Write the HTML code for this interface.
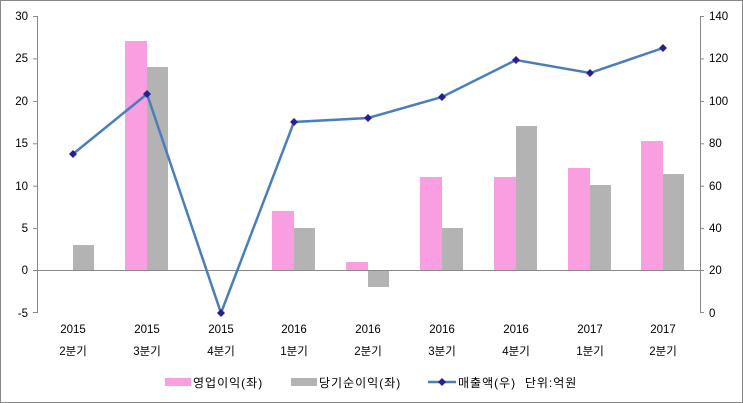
<!DOCTYPE html>
<html><head><meta charset="utf-8"><style>body{margin:0;background:#fff}svg{display:block}text{font-family:"Liberation Sans","Noto Sans CJK KR",sans-serif;font-size:11.5px;fill:#000}.lg{font-size:12px;letter-spacing:1px}</style></head><body>
<svg width="743" height="403" xmlns="http://www.w3.org/2000/svg">
<rect x="0.5" y="0.5" width="742" height="402" fill="#fff" stroke="#888"/>
<g stroke="#888" stroke-width="1">
<line x1="37.5" y1="16" x2="37.5" y2="313"/>
<line x1="700.5" y1="16" x2="700.5" y2="313"/>
<line x1="37" y1="270.5" x2="700" y2="270.5"/>
</g>
<g stroke="#888">
<line x1="33" y1="16.5" x2="37" y2="16.5"/><line x1="33" y1="58.9" x2="37" y2="58.9"/><line x1="33" y1="101.4" x2="37" y2="101.4"/><line x1="33" y1="143.8" x2="37" y2="143.8"/><line x1="33" y1="186.2" x2="37" y2="186.2"/><line x1="33" y1="228.6" x2="37" y2="228.6"/><line x1="33" y1="270.5" x2="37" y2="270.5"/><line x1="33" y1="312.5" x2="37" y2="312.5"/>
<line x1="700" y1="16.5" x2="704" y2="16.5"/><line x1="700" y1="58.9" x2="704" y2="58.9"/><line x1="700" y1="101.4" x2="704" y2="101.4"/><line x1="700" y1="143.8" x2="704" y2="143.8"/><line x1="700" y1="186.2" x2="704" y2="186.2"/><line x1="700" y1="228.6" x2="704" y2="228.6"/><line x1="700" y1="270.5" x2="704" y2="270.5"/><line x1="700" y1="312.5" x2="704" y2="312.5"/>
</g>
<g text-anchor="end">
<text x="28" y="20">30</text><text x="28" y="62">25</text><text x="28" y="105">20</text><text x="28" y="147">15</text><text x="28" y="190">10</text><text x="28" y="232">5</text><text x="28" y="274">0</text><text x="28" y="317">-5</text>
</g>
<g text-anchor="start">
<text x="709" y="20">140</text><text x="709" y="62">120</text><text x="709" y="105">100</text><text x="709" y="147">80</text><text x="709" y="190">60</text><text x="709" y="232">40</text><text x="709" y="274">20</text><text x="709" y="317">0</text>
</g>
<g fill="#f99ee0">
<rect x="125" y="41" width="22" height="229"/>
<rect x="272" y="211" width="22" height="59"/>
<rect x="346" y="262" width="22" height="8"/>
<rect x="420" y="177" width="22" height="93"/>
<rect x="494" y="177" width="22" height="93"/>
<rect x="568" y="168" width="22" height="102"/>
<rect x="641" y="141" width="22" height="129"/>
</g>
<g fill="#b3b3b3">
<rect x="73" y="245" width="21" height="25"/>
<rect x="147" y="67" width="21" height="203"/>
<rect x="294" y="228" width="21" height="42"/>
<rect x="368" y="271" width="21" height="16"/>
<rect x="442" y="228" width="21" height="42"/>
<rect x="516" y="126" width="21" height="144"/>
<rect x="590" y="185" width="21" height="85"/>
<rect x="663" y="174" width="21" height="96"/>
</g>
<polyline fill="none" stroke="#4a7ebb" stroke-width="2.5" points="73,154 147,94 221,313 294,122 368,118 442,97 516,60 590,73 663,48"/>
<g fill="#2a1f8f">
<path d="M73,150 l4,4 -4,4 -4,-4z"/><path d="M147,90 l4,4 -4,4 -4,-4z"/><path d="M221,309 l4,4 -4,4 -4,-4z"/><path d="M294,118 l4,4 -4,4 -4,-4z"/><path d="M368,114 l4,4 -4,4 -4,-4z"/><path d="M442,93 l4,4 -4,4 -4,-4z"/><path d="M516,56 l4,4 -4,4 -4,-4z"/><path d="M590,69 l4,4 -4,4 -4,-4z"/><path d="M663,44 l4,4 -4,4 -4,-4z"/>
</g>
<g text-anchor="middle">
<text x="73" y="333">2015</text><text x="73" y="355">2분기</text>
<text x="147" y="333">2015</text><text x="147" y="355">3분기</text>
<text x="221" y="333">2015</text><text x="221" y="355">4분기</text>
<text x="294" y="333">2016</text><text x="294" y="355">1분기</text>
<text x="368" y="333">2016</text><text x="368" y="355">2분기</text>
<text x="442" y="333">2016</text><text x="442" y="355">3분기</text>
<text x="516" y="333">2016</text><text x="516" y="355">4분기</text>
<text x="590" y="333">2017</text><text x="590" y="355">1분기</text>
<text x="663" y="333">2017</text><text x="663" y="355">2분기</text>
</g>
<rect x="165" y="378" width="26" height="8" fill="#f99ee0"/>
<text class="lg" x="193" y="387">영업이익(좌)</text>
<rect x="291" y="378" width="26" height="8" fill="#b3b3b3"/>
<text class="lg" x="319" y="387">당기순이익(좌)</text>
<line x1="428" y1="382" x2="456" y2="382" stroke="#4a7ebb" stroke-width="2.5"/>
<path d="M442,378 l4,4 -4,4 -4,-4z" fill="#2a1f8f"/>
<text class="lg" x="458" y="387" xml:space="preserve">매출액(우)  단위:억원</text>
</svg>
</body></html>
